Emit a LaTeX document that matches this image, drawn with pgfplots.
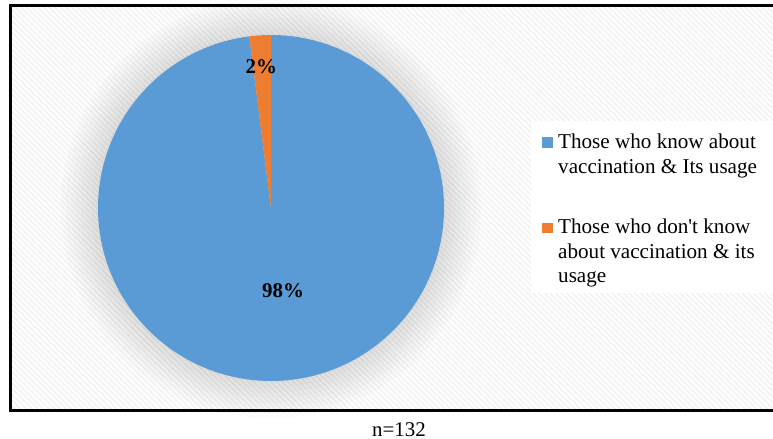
\documentclass[border=0pt]{standalone}
\usepackage{pgfplots}
\pgfplotsset{compat=1.18}
\usepackage{pgfplotstable}
\usepackage{fontspec}
\setmainfont{Liberation Serif}
\usetikzlibrary{patterns.meta}
\definecolor{pieblue}{HTML}{5B9BD5}
\definecolor{pieorange}{HTML}{ED7D31}
\pgfplotstableread{
share value
know 98
dontknow 2
}\piedata
\begin{document}%
\begin{tikzpicture}
\pgfplotstablegetelem{0}{value}\of\piedata\let\vKnow\pgfplotsretval
\pgfplotstablegetelem{1}{value}\of\piedata\let\vDont\pgfplotsretval
\pgfmathsetmacro\aA{90}
\pgfmathsetmacro\aB{90-3.6*\vKnow}
\pgfmathsetmacro\aC{\aB-3.6*\vDont}
\begin{axis}[
  width=773bp, height=439bp, scale only axis,
  xmin=0, xmax=773, ymin=0, ymax=439, y dir=reverse,
  hide axis, clip=false]
% background
\fill[white] (axis cs:11,6) rectangle (axis cs:773,410);
\pattern[pattern={Lines[angle=-45,distance=4bp,line width=1.6bp]}, pattern color=black!5] (axis cs:11,6) rectangle (axis cs:773,410);
% shadow
\pgfplotsinvokeforeach{175,180,185,190,195,200,205,210}{
  \fill[black, opacity=0.015] (axis cs:271,208) circle[radius=#1bp];
}
% slices
\addplot[draw=none, fill=pieblue, domain=\aB:\aA, samples=361, variable=\t]
  ({271+173*cos(\t)},{208-173*sin(\t)}) -- (axis cs:271,208) -- cycle;
\addplot[draw=none, fill=pieorange, domain=\aC:\aB, samples=20, variable=\t]
  ({271+173*cos(\t)},{208-173*sin(\t)}) -- (axis cs:271,208) -- cycle;
% data labels
\node[anchor=base, inner sep=0, font=\fontsize{21}{25}\selectfont\bfseries] at (axis cs:261.3,73.3) {2\%};
\node[anchor=base, inner sep=0, font=\fontsize{21}{25}\selectfont\bfseries] at (axis cs:283,297.3) {98\%};
% legend
\fill[white] (axis cs:531,121) rectangle (axis cs:773,293);
\fill[pieblue] (axis cs:542,137) rectangle (axis cs:553,147.5);
\fill[pieorange] (axis cs:542,222.5) rectangle (axis cs:553,233);
\begin{scope}[every node/.style={anchor=base west, inner sep=0, font=\fontsize{21.2}{25}\selectfont}]
\node at (axis cs:558,148.3) {Those who know about};
\node at (axis cs:558,173.3) {vaccination \& Its usage};
\node at (axis cs:558,233.3) {Those who don\textquotesingle t know};
\node at (axis cs:558,258.3) {about vaccination \& its};
\node at (axis cs:558,282.7) {usage};
\end{scope}
% frame
\draw[line width=3bp] (axis cs:773,5.8) -- (axis cs:10.7,5.8) -- (axis cs:10.7,410) -- (axis cs:773,410);
% caption
\node[anchor=base, inner sep=0, font=\fontsize{21}{25}\selectfont] at (axis cs:399,436) {n=132};
\end{axis}
\pgfresetboundingbox
\useasboundingbox (current axis.south west) rectangle (current axis.north east);
\end{tikzpicture}%
\end{document}
